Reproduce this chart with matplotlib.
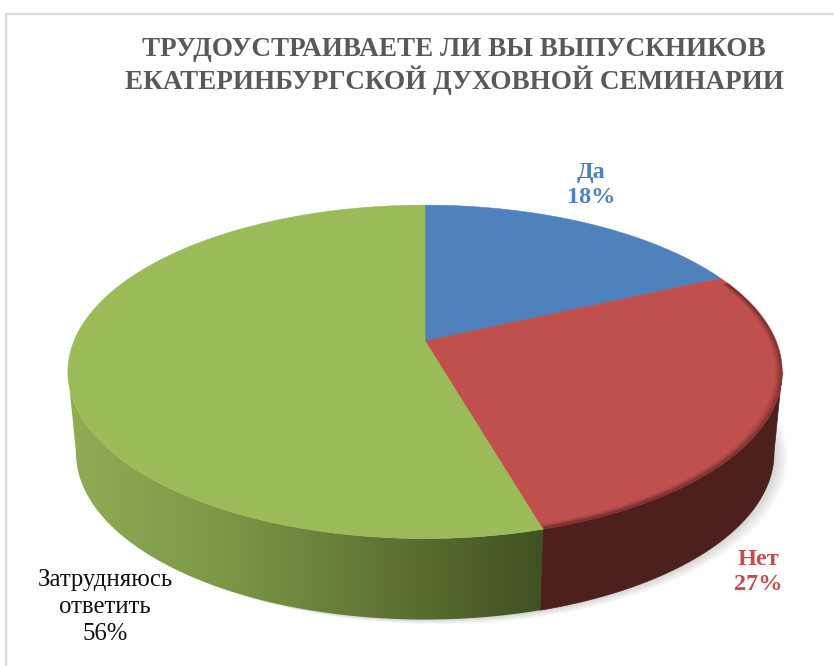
"""Perspective pie: do graduates of the Yekaterinburg seminary find jobs."""

import matplotlib

matplotlib.use("Agg")
import matplotlib.pyplot as plt
import numpy as np
from matplotlib.colors import LinearSegmentedColormap
from matplotlib.patches import Polygon

plt.rcParams["font.family"] = ["Liberation Serif", "DejaVu Serif"]

TITLE = "ТРУДОУСТРАИВАЕТЕ ЛИ ВЫ ВЫПУСКНИКОВ\nЕКАТЕРИНБУРГСКОЙ ДУХОВНОЙ СЕМИНАРИИ"
CATEGORIES = ["Да", "Нет", "Затрудняюсь\nответить"]
PRINTED_PCT = [18, 27, 56]
DRAWN_PCT = [18.1, 27.45, 54.45]
COLORS = ["#4F81BD", "#C0504D", "#9BBB59"]
LABEL_COLORS = ["#4F81BD", "#C0504D", "#111111"]

CX, CY = 425, 341
K = 0.185


def project(theta, r=1.0, low=False):
    """Clockwise angle from 12 o'clock to figure pixels, nearer side is larger."""
    u, v = r * np.sin(theta), r * np.cos(theta)
    w = 1 + K * v
    rx = 343 if low else 351
    return CX + rx * u / w, CY - 161 * v / w + (81 if low else 0)


def wall(a):
    x0, y0 = project(a)
    x1, y1 = project(a[::-1], low=True)
    return np.c_[np.r_[x0, x1], np.r_[y0, y1]]


fig = plt.figure(figsize=(8.34, 6.66), dpi=100)
ax = fig.add_axes([0, 0, 1, 1])
ax.axis("off")

# chart frame, only the top and left edges are inside the crop
ax.plot([834, 6, 6], [14, 14, 666], color="#D9D9D9", lw=1.6, zorder=1)

edges = 2 * np.pi * np.cumsum([0] + DRAWN_PCT) / sum(DRAWN_PCT)

# the wall is only visible between the two silhouette tangents
t = np.linspace(0, 2 * np.pi, 721)
sx, sy = project(t, low=True)
right_ext = t[np.argmax(sx)]
left_ext = t[np.argmin(sx)]

# soft shadow under the near right edge
for off in range(1, 15):
    ax.add_patch(
        Polygon(np.c_[sx + off, sy + off * 0.35], fc="#000000", alpha=0.012, ec="none", zorder=2)
    )

# side wall: flat red, green darkens left to right
red_wall = wall(np.linspace(right_ext, edges[2], 300))
ax.add_patch(Polygon(red_wall, fc="#4D1F1D", ec="#4D1F1D", lw=0.5, zorder=3))

green_wall = Polygon(wall(np.linspace(edges[2], left_ext, 400)), fc="none", ec="none")
ax.add_patch(green_wall)
side_cmap = LinearSegmentedColormap.from_list("side", ["#90AC53", "#7C9647", "#5F7434", "#3F5122"])
img = ax.imshow(
    np.linspace(0, 1, 256)[None, :], cmap=side_cmap, extent=(70, 545, 640, 350),
    aspect="auto", zorder=3, interpolation="bilinear",
)
img.set_clip_path(green_wall)

# top face
for i, color in enumerate(COLORS):
    a = np.linspace(edges[i], edges[i + 1], 200)
    x, y = project(a)
    ax.add_patch(
        Polygon(np.c_[np.r_[CX, x], np.r_[CY, y]], fc=color, ec=color, lw=0.4, zorder=4)
    )

# blurred bevel along the red rim
a = np.linspace(edges[1] + 0.04, edges[2] - 0.004, 200)
for r, alpha in zip((0.998, 0.994, 0.990, 0.986, 0.982), (0.36, 0.26, 0.17, 0.09, 0.04)):
    x, y = project(a, r=r)
    ax.plot(x, y, color="#3A1615", lw=1.6, alpha=alpha, zorder=5, solid_capstyle="butt")

ax.set_xlim(0, 834)
ax.set_ylim(666, 0)

ax.text(
    454, 66, TITLE, ha="center", va="center", fontsize=19.5, fontweight="bold",
    color="#595959", linespacing=1.16, zorder=6,
)

LABEL_XY = [(591, 185), (758, 572), (105, 607)]
for i, (xy, color) in enumerate(zip(LABEL_XY, LABEL_COLORS)):
    ax.text(
        xy[0], xy[1], f"{CATEGORIES[i]}\n{PRINTED_PCT[i]}%", ha="center", va="center",
        fontsize=17.5 if i < 2 else 17.8, fontweight="bold" if i < 2 else "normal",
        color=color, linespacing=1.25 if i < 2 else 1.3, zorder=6,
    )

fig.savefig("out.png", dpi=100)
